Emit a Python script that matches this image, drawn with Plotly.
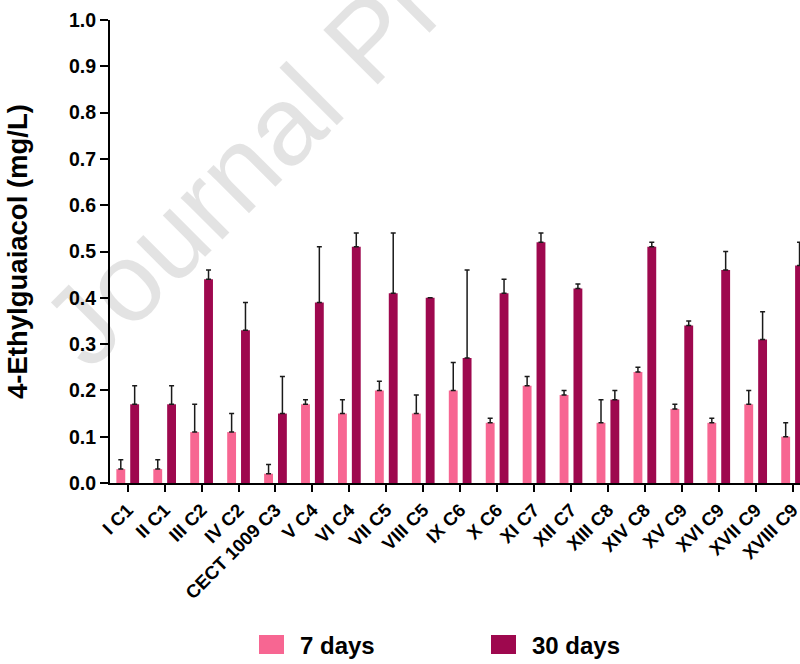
import plotly.graph_objects as go

categories = ["I C1", "II C1", "III C2", "IV C2", "CECT 1009 C3", "V C4", "VI C4",
              "VII C5", "VIII C5", "IX C6", "X C6", "XI C7", "XII C7", "XIII C8",
              "XIV C8", "XV C9", "XVI C9", "XVII C9", "XVIII C9"]

days7 = [0.03, 0.03, 0.11, 0.11, 0.02, 0.17, 0.15, 0.20, 0.15, 0.20, 0.13, 0.21,
         0.19, 0.13, 0.24, 0.16, 0.13, 0.17, 0.10]
err7 = [0.02, 0.02, 0.06, 0.04, 0.02, 0.01, 0.03, 0.02, 0.04, 0.06, 0.01, 0.02,
        0.01, 0.05, 0.01, 0.01, 0.01, 0.03, 0.03]

days30 = [0.17, 0.17, 0.44, 0.33, 0.15, 0.39, 0.51, 0.41, 0.40, 0.27, 0.41, 0.52,
          0.42, 0.18, 0.51, 0.34, 0.46, 0.31, 0.47]
err30 = [0.04, 0.04, 0.02, 0.06, 0.08, 0.12, 0.03, 0.13, 0.0, 0.19, 0.03, 0.02,
         0.01, 0.02, 0.01, 0.01, 0.04, 0.06, 0.05]

series_names = ["7 days", "30 days"]
y_ticks = [0.0, 0.1, 0.2, 0.3, 0.4, 0.5, 0.6, 0.7, 0.8, 0.9, 1.0]

PINK = "#F76692"
DARK = "#9E084E"
FONT = "Liberation Sans"

W, H = 800, 664
ML, MR, MT = 110, 0, 20
MB = H - 483
PW = W - ML - MR
PH = H - MT - MB


def px_x(x):
    return (x - ML) / PW


def px_y(y):
    return (483 - y) / PH


fig = go.Figure()
for name, vals, errs, col in [(series_names[0], days7, err7, PINK),
                              (series_names[1], days30, err30, DARK)]:
    fig.add_trace(go.Bar(
        x=categories, y=vals, name=name, marker=dict(color=col, line=dict(width=0)),
        showlegend=False,
        error_y=dict(type="data", array=errs, arrayminus=[0] * len(errs),
                     symmetric=False, color="#1a1a1a", thickness=1.5, width=2.5),
    ))

fig.update_layout(
    width=W, height=H,
    margin=dict(l=ML, r=MR, t=MT, b=MB, pad=0, autoexpand=False),
    paper_bgcolor="white", plot_bgcolor="white",
    barmode="group", bargap=0.25, bargroupgap=0.36,
    font=dict(family=FONT, color="black"),
)

fig.update_xaxes(
    type="category", range=[-0.48, 18.2], automargin=False,
    showline=True, linecolor="black", linewidth=2,
    ticks="outside", ticklen=7, tickwidth=2, tickcolor="black",
    tickangle=-45, showgrid=False, zeroline=False,
    tickfont=dict(family=FONT, size=18.5, weight="bold", color="black"),
)

fig.update_yaxes(
    range=[0, 1.0], tickvals=y_ticks, ticktext=[f"{v:.1f}" for v in y_ticks],
    automargin=False,
    showline=True, linecolor="black", linewidth=2,
    ticks="outside", ticklen=8, tickwidth=2, tickcolor="black",
    showgrid=False, zeroline=False,
    tickfont=dict(family=FONT, size=19.5, weight="bold", color="black"),
    title=dict(text="4-Ethylguaiacol (mg/L)", standoff=33,
               font=dict(family=FONT, size=27.5, weight="bold", color="black")),
)

# Legend drawn below the chart
legend_items = [(series_names[0], PINK, 259), (series_names[1], DARK, 491)]
for name, col, x0 in legend_items:
    fig.add_shape(type="rect", xref="paper", yref="paper",
                  x0=px_x(x0), x1=px_x(x0 + 25), y0=px_y(654), y1=px_y(635),
                  fillcolor=col, line=dict(width=0))
    fig.add_annotation(xref="paper", yref="paper", x=px_x(x0 + 39), y=px_y(645),
                       xanchor="left", yanchor="middle", showarrow=False,
                       text=name, font=dict(family=FONT, size=24, weight="bold", color="black"))

# Watermark
fig.add_annotation(xref="paper", yref="paper", x=px_x(368), y=px_y(39),
                   xanchor="center", yanchor="middle", showarrow=False,
                   text="Journal Pre-proof", textangle=-45,
                   font=dict(family=FONT, size=112, color="rgba(0,0,0,0.11)"))

fig.write_html(
    "out.html",
    config={"displayModeBar": False},
    post_script="document.documentElement.style.margin='0';"
                "document.body.style.margin='0';"
                "document.body.style.overflow='hidden';",
)
